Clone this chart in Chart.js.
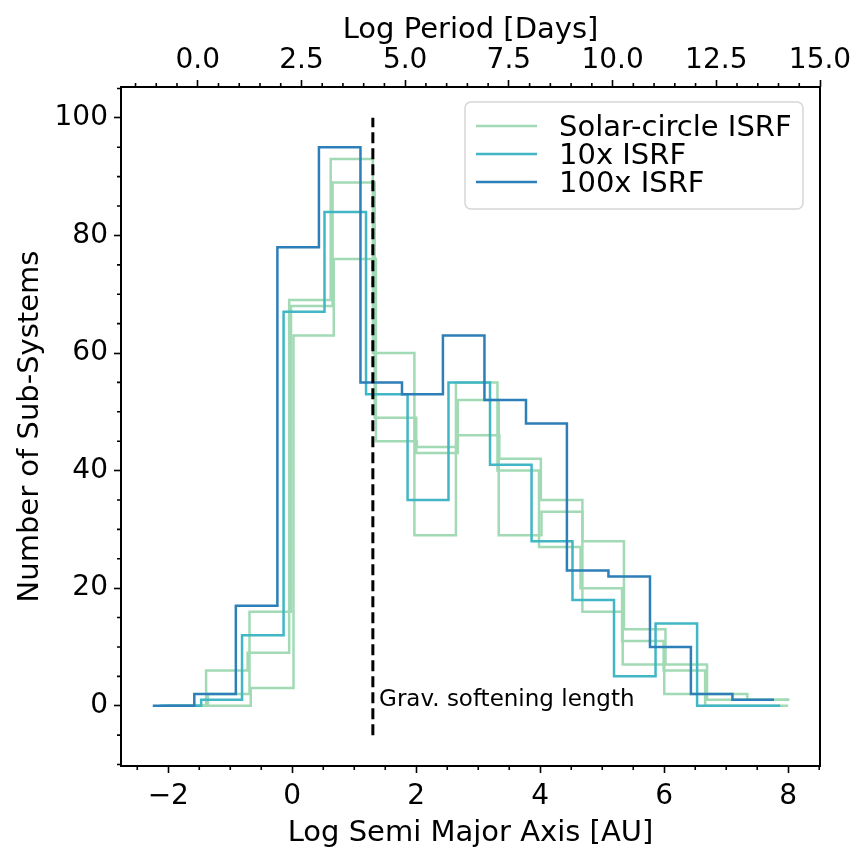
<!DOCTYPE html>
<html>
<head>
<meta charset="utf-8">
<script src="https://cdn.jsdelivr.net/npm/chart.js@4.4.0/dist/chart.umd.min.js"></script>
<style>
  html, body { margin: 0; padding: 0; background: #fff; }
  #wrap { width: 865px; height: 861px; }
</style>
</head>
<body>
<div id="wrap"><canvas id="chart" width="865" height="861"></canvas></div>
<script>
'use strict';

// bin edges are log10 semi-major axis [AU], counts are sub-systems per bin
const blueEdges = [-2.25, -1.58, -0.91, -0.24, 0.43, 1.10, 1.77, 2.43, 3.10, 3.77, 4.43, 5.10, 5.77, 6.43, 7.10, 7.77];
const blueCounts = [0, 2, 17, 78, 95, 55, 53, 63, 52, 48, 23, 22, 10, 2, 1];

const cyanEdges = [-2.14, -1.47, -0.81, -0.14, 0.52, 1.19, 1.86, 2.52, 3.19, 3.86, 4.52, 5.19, 5.86, 6.53, 7.20, 7.87];
const cyanCounts = [0, 1, 12, 67, 84, 53, 35, 55, 41, 28, 18, 5, 14, 0, 0];

// three solar-circle runs
const greenEdgesA = [-2.06, -1.39, -0.72, -0.05, 0.62, 1.30, 1.97, 2.64, 3.31, 3.98, 4.65, 5.32, 5.99, 6.66, 7.33, 8.00];
const greenCountsA = [0, 6, 9, 69, 93, 60, 29, 55, 40, 27, 20, 11, 6, 0, 0];
const greenEdgesB = [-2.03, -1.36, -0.69, -0.02, 0.65, 1.33, 2.00, 2.67, 3.34, 4.01, 4.68, 5.35, 6.02, 6.69, 7.36, 8.02];
const greenCountsB = [0, 2, 16, 68, 89, 49, 43, 46, 42, 35, 28, 13, 7, 1, 1];
const greenEdgesC = [-2.00, -1.33, -0.67, 0.02, 0.67, 1.35, 2.01, 2.67, 3.33, 4.02, 4.68, 5.33, 6.00, 6.67, 7.34, 8.00];
const greenCountsC = [0, 0, 3, 63, 76, 45, 44, 52, 29, 33, 16, 7, 2, 2, 1];

const softeningX = 1.3;
const softeningY = [-5, 100];
const softeningLabel = 'Grav. softening length';

const xTickValues = [-2, 0, 2, 4, 6, 8];
const topTickValues = [0, 2.5, 5, 7.5, 10, 12.5, 15];
const yTickValues = [0, 20, 40, 60, 80, 100];

const legendLabels = ['Solar-circle ISRF', '10x ISRF', '100x ISRF'];

const GREEN = '#a1dab4', CYAN = '#41b6c4', BLUE = '#2c7fb8';
const FONT = 'DejaVu Sans';

Chart.defaults.font.family = FONT;
Chart.defaults.color = '#000';

const steps = (edges, counts) => {
  const pts = counts.map((c, i) => ({x: edges[i], y: c}));
  pts.push({x: edges[edges.length - 1], y: counts[counts.length - 1]});
  return pts;
};

const histLine = (edges, counts, color) => ({
  data: steps(edges, counts),
  stepped: true,
  borderColor: color,
  borderWidth: 2.5,
  pointRadius: 0,
  fill: false,
  xAxisID: 'x',
  yAxisID: 'y'
});

const minus = v => (v < 0 ? '\u2212' : '') + Math.abs(v);

const minorList = (min, max, step, majorStep) => {
  const out = [];
  for (let v = Math.ceil(min / step) * step; v <= max + 1e-9; v += step) {
    const r = v / majorStep;
    if (Math.abs(r - Math.round(r)) > 1e-6) out.push(v);
  }
  return out;
};

const decorations = {
  id: 'decorations',
  afterDraw(chart) {
    const {ctx, chartArea: a, scales: {x, x2, y}} = chart;
    ctx.save();
    ctx.strokeStyle = '#000';
    ctx.lineWidth = 1.6;
    ctx.beginPath();
    for (const v of minorList(x.min, x.max, 0.5, 2)) {
      const p = x.getPixelForValue(v);
      ctx.moveTo(p, a.bottom); ctx.lineTo(p, a.bottom + 4);
    }
    for (const v of minorList(x2.min, x2.max, 0.5, 2.5)) {
      const p = x2.getPixelForValue(v);
      ctx.moveTo(p, a.top); ctx.lineTo(p, a.top - 4);
    }
    for (const v of minorList(y.min, y.max, 5, 20)) {
      const p = y.getPixelForValue(v);
      ctx.moveTo(a.left, p); ctx.lineTo(a.left - 4, p);
    }
    ctx.stroke();

    ctx.lineWidth = 2;
    ctx.strokeRect(a.left, a.top, a.right - a.left, a.bottom - a.top);

    ctx.fillStyle = '#000';
    ctx.font = '23px "' + FONT + '"';
    ctx.textBaseline = 'alphabetic';
    ctx.fillText(softeningLabel, x.getPixelForValue(1.4), y.getPixelForValue(0));

    // legend, upper right
    const bw = 338, bh = 107;
    const bx = a.right - 17 - bw, by = a.top + 15;
    ctx.beginPath();
    ctx.roundRect(bx, by, bw, bh, 6);
    ctx.fillStyle = 'rgba(255,255,255,0.8)';
    ctx.fill();
    ctx.strokeStyle = '#d6d6d6';
    ctx.lineWidth = 1.5;
    ctx.stroke();
    const colors = [GREEN, CYAN, BLUE];
    ctx.font = '29px "' + FONT + '"';
    legendLabels.forEach((label, i) => {
      const ry = by + 24 + i * 28;
      ctx.strokeStyle = colors[i];
      ctx.lineWidth = 2.6;
      ctx.beginPath();
      ctx.moveTo(bx + 11, ry); ctx.lineTo(bx + 72, ry);
      ctx.stroke();
      ctx.fillStyle = '#000';
      ctx.fillText(label, bx + 94, ry + 10);
    });
    ctx.restore();
  }
};

new Chart(document.getElementById('chart'), {
  type: 'line',
  data: {
    datasets: [
      {
        data: softeningY.map(v => ({x: softeningX, y: v})),
        borderColor: '#000',
        borderWidth: 3,
        borderDash: [11, 5],
        pointRadius: 0,
        fill: false
      },
      histLine(blueEdges, blueCounts, BLUE),
      histLine(cyanEdges, cyanCounts, CYAN),
      histLine(greenEdgesA, greenCountsA, GREEN),
      histLine(greenEdgesB, greenCountsB, GREEN),
      histLine(greenEdgesC, greenCountsC, GREEN)
    ]
  },
  options: {
    responsive: false,
    animation: false,
    devicePixelRatio: 1,
    events: [],
    layout: {padding: {left: 0, right: 45, top: 0, bottom: 0}},
    plugins: {
      legend: {display: false},
      tooltip: {enabled: false}
    },
    scales: {
      x: {
        type: 'linear',
        position: 'bottom',
        min: -2.7625,
        max: 8.5125,
        afterBuildTicks: s => { s.ticks = xTickValues.map(v => ({value: v})); },
        afterFit: s => { s.height = 95; },
        ticks: {callback: v => minus(v), font: {size: 28}, padding: 7, autoSkip: false, maxRotation: 0},
        grid: {drawOnChartArea: false, tickLength: 7, tickWidth: 1.6, tickColor: '#000'},
        border: {display: false},
        title: {display: true, text: 'Log Semi Major Axis [AU]', font: {size: 29}, padding: {top: 0, bottom: 10}}
      },
      x2: {
        type: 'linear',
        position: 'top',
        min: -1.85,
        max: 15.0,
        afterBuildTicks: s => { s.ticks = topTickValues.map(v => ({value: v})); },
        afterFit: s => { s.height = 87; },
        ticks: {callback: v => (v < 0 ? '\u2212' : '') + Math.abs(v).toFixed(1), font: {size: 28}, padding: 2, autoSkip: false, maxRotation: 0},
        grid: {drawOnChartArea: false, tickLength: 7, tickWidth: 1.6, tickColor: '#000'},
        border: {display: false},
        title: {display: true, text: 'Log Period [Days]', font: {size: 29}, padding: {top: 13, bottom: 0}}
      },
      y: {
        type: 'linear',
        position: 'left',
        min: -10.25,
        max: 105.25,
        afterBuildTicks: s => { s.ticks = yTickValues.map(v => ({value: v})); },
        afterFit: s => { s.width = 121; },
        ticks: {callback: v => minus(v), font: {size: 28}, padding: 6, autoSkip: false},
        grid: {drawOnChartArea: false, tickLength: 7, tickWidth: 1.6, tickColor: '#000'},
        border: {display: false},
        title: {display: true, text: 'Number of Sub-Systems', font: {size: 29}, padding: {top: 13, bottom: 0}}
      }
    }
  },
  plugins: [decorations]
});
</script>
</body>
</html>
